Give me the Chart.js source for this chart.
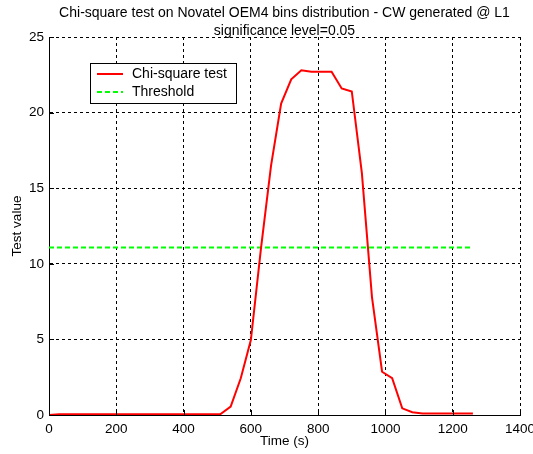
<!DOCTYPE html>
<html>
<head>
<meta charset="utf-8">
<title>Chi-square test</title>
<script src="https://cdn.jsdelivr.net/npm/chart.js@4.4.0/dist/chart.umd.min.js"></script>
<style>
  html, body { margin: 0; padding: 0; background: #fff; }
  canvas { display: block; }
</style>
</head>
<body>
<canvas id="chiChart" width="533" height="454"></canvas>
<script>
    // Chart data
    const titleLines = ["Chi-square test on Novatel OEM4 bins distribution - CW generated @ L1", "significance level=0.05"];
    const times = [0, 30, 60, 90, 120, 150, 180, 210, 240, 270, 300, 330, 360, 390, 420, 450, 480,
        510, 540, 570, 600, 630, 660, 690, 720, 750, 780, 810, 840, 870, 900, 930, 960, 990,
        1020, 1050, 1080, 1110, 1140, 1170, 1200, 1230, 1260];
    const chiValues = [0, 0.05, 0.05, 0.05, 0.05, 0.05, 0.05, 0.05, 0.05, 0.05, 0.05, 0.05, 0.05, 0.05, 0.05, 0.05, 0.05,
        0.07, 0.55, 2.43, 4.96, 11.0, 16.5, 20.6, 22.2, 22.8, 22.7, 22.7, 22.7, 21.6, 21.4, 16.0, 7.8, 2.86,
        2.43, 0.44, 0.18, 0.1, 0.1, 0.1, 0.1, 0.1, 0.1];
    const thresholdTimes = [0, 1260];
    const thresholdValues = [11.07, 11.07];
    const xTicks = [0, 200, 400, 600, 800, 1000, 1200, 1400];
    const yTicks = [0, 5, 10, 15, 20, 25];

    const fontFamily = "'Liberation Sans', Arial, Helvetica, sans-serif";

    function toPoints(xs, ys) {
        return xs.map((x, i) => ({ x: x, y: ys[i] }));
    }

    // Title, inward ticks and legend box drawn like the MATLAB figure
    const matlabDecor = {
        id: "matlabDecor",
        afterDraw(chart) {
            const ctx = chart.ctx;
            const area = chart.chartArea;
            const xs = chart.scales.x;
            const ys = chart.scales.y;
            ctx.save();

            // title
            ctx.fillStyle = "#000";
            ctx.font = "14px " + fontFamily;
            ctx.textAlign = "center";
            ctx.textBaseline = "middle";
            const cx = (area.left + area.right) / 2;
            ctx.fillText(titleLines[0], cx, 13);
            ctx.fillText(titleLines[1], cx, 31);

            // inward tick marks on left and bottom axes
            ctx.strokeStyle = "#000";
            ctx.lineWidth = 1;
            ctx.beginPath();
            xTicks.forEach(v => {
                const px = Math.round(xs.getPixelForValue(v)) + 0.5;
                ctx.moveTo(px, area.bottom);
                ctx.lineTo(px, area.bottom - 5);
            });
            yTicks.forEach(v => {
                const py = Math.round(ys.getPixelForValue(v)) + 0.5;
                ctx.moveTo(area.left, py);
                ctx.lineTo(area.left + 5, py);
            });
            ctx.stroke();

            // legend
            const bx = 90.5, by = 63.5, bw = 146, bh = 40;
            ctx.fillStyle = "#fff";
            ctx.fillRect(bx, by, bw, bh);
            ctx.strokeStyle = "#000";
            ctx.lineWidth = 1;
            ctx.strokeRect(bx, by, bw, bh);
            ctx.textAlign = "left";
            ctx.font = "14px " + fontFamily;
            chart.data.datasets.forEach((ds, i) => {
                const ly = 74 + i * 18;
                ctx.strokeStyle = ds.borderColor;
                ctx.lineWidth = 2;
                ctx.setLineDash(ds.borderDash || []);
                ctx.beginPath();
                ctx.moveTo(97, ly);
                ctx.lineTo(123, ly);
                ctx.stroke();
                ctx.setLineDash([]);
                ctx.fillStyle = "#000";
                ctx.fillText(ds.label, 132, ly);
            });
            ctx.restore();
        }
    };

    const chiCtx = document.getElementById("chiChart").getContext("2d");

    const chiChart = new Chart(chiCtx, {
        type: "line",
        data: {
            datasets: [
                {
                    label: "Chi-square test",
                    data: toPoints(times, chiValues),
                    borderColor: "rgb(255, 0, 0)",
                    backgroundColor: "rgb(255, 0, 0)",
                    borderWidth: 2,
                    pointRadius: 0,
                    tension: 0,
                },
                {
                    label: "Threshold",
                    data: toPoints(thresholdTimes, thresholdValues),
                    borderColor: "rgb(0, 255, 0)",
                    backgroundColor: "rgb(0, 255, 0)",
                    borderWidth: 2,
                    borderDash: [5, 3],
                    pointRadius: 0,
                },
            ],
        },
        options: {
            responsive: false,
            animation: false,
            devicePixelRatio: 1,
            layout: {
                padding: { left: 0, right: 13, top: 37, bottom: 0 },
            },
            plugins: {
                legend: { display: false },
                title: { display: false },
                tooltip: { enabled: false },
            },
            scales: {
                x: {
                    type: "linear",
                    min: 0,
                    max: 1400,
                    afterBuildTicks: axis => { axis.ticks = xTicks.map(v => ({ value: v })); },
                    afterFit: axis => {
                        axis.height = 39;
                        axis.paddingLeft = 0;
                        axis.paddingRight = 0;
                    },
                    title: {
                        display: true,
                        text: "Time (s)",
                        color: "black",
                        font: { family: fontFamily, size: 13.5 },
                        padding: { top: 0, bottom: 5 },
                    },
                    ticks: {
                        color: "black",
                        font: { family: fontFamily, size: 13.5 },
                        padding: 6,
                        maxRotation: 0,
                        callback: value => String(value),
                    },
                    grid: {
                        color: "black",
                        lineWidth: 1,
                        drawTicks: false,
                    },
                    border: {
                        display: true,
                        color: "black",
                        width: 1,
                        dash: [3, 3],
                    },
                },
                y: {
                    type: "linear",
                    min: 0,
                    max: 25,
                    afterBuildTicks: axis => { axis.ticks = yTicks.map(v => ({ value: v })); },
                    afterFit: axis => {
                        axis.width = 49;
                        axis.paddingTop = 0;
                        axis.paddingBottom = 0;
                    },
                    title: {
                        display: true,
                        text: "Test value",
                        color: "black",
                        font: { family: fontFamily, size: 13.5 },
                        padding: { top: 9, bottom: 0 },
                    },
                    ticks: {
                        color: "black",
                        font: { family: fontFamily, size: 13.5 },
                        padding: 5,
                        callback: value => String(value),
                    },
                    grid: {
                        color: "black",
                        lineWidth: 1,
                        drawTicks: false,
                    },
                    border: {
                        display: true,
                        color: "black",
                        width: 1,
                        dash: [3, 3],
                    },
                },
            },
        },
        plugins: [matlabDecor],
    });
</script>
</body>
</html>
